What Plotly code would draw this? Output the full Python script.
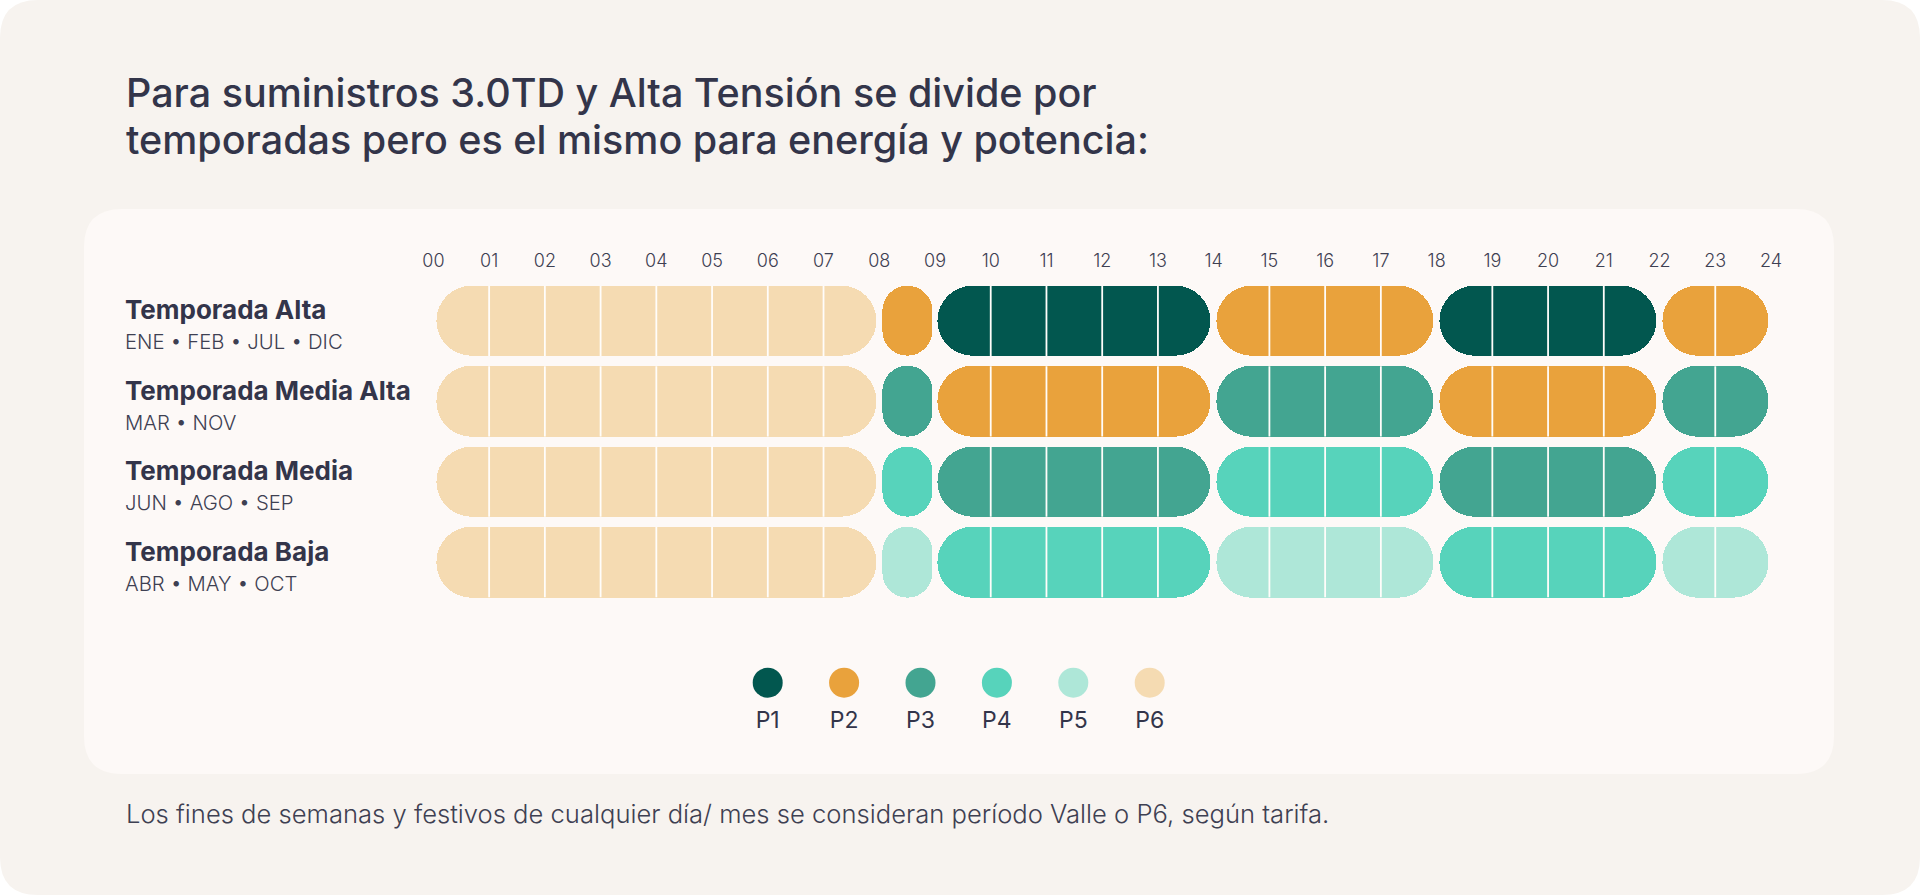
import plotly.graph_objects as go

# ---------------- data ----------------
HOUR_LABELS = ["00", "01", "02", "03", "04", "05", "06", "07", "08", "09", "10", "11",
               "12", "13", "14", "15", "16", "17", "18", "19", "20", "21", "22", "23", "24"]
SEASONS = ["Temporada Alta", "Temporada Media Alta", "Temporada Media", "Temporada Baja"]
MONTHS = ["ENE • FEB • JUL • DIC", "MAR • NOV", "JUN • AGO • SEP", "ABR • MAY • OCT"]
SEG_START = [0, 8, 9, 14, 18, 22]
SEG_END = [8, 9, 14, 18, 22, 24]
PERIODS_ALTA = ["P6", "P2", "P1", "P2", "P1", "P2"]
PERIODS_MEDIA_ALTA = ["P6", "P3", "P2", "P3", "P2", "P3"]
PERIODS_MEDIA = ["P6", "P4", "P3", "P4", "P3", "P4"]
PERIODS_BAJA = ["P6", "P5", "P4", "P5", "P4", "P5"]
PERIOD_NAMES = ["P1", "P2", "P3", "P4", "P5", "P6"]
PERIOD_COLORS = ["#02574F", "#E9A23C", "#43A591", "#57D3BB", "#AEE7D8", "#F5DBB2"]

TITLE_LINES = ["Para suministros 3.0TD y Alta Tensión se divide por",
               "temporadas pero es el mismo para energía y potencia:"]
FOOTER = "Los fines de semanas y festivos de cualquier día/ mes se consideran período Valle o P6, según tarifa."

# ---------------- style ----------------
W, H = 1920, 895
FONT = "Inter"
TEXT = "#33354A"
SUBTEXT = "#3E4052"
OUTER_BG = "#F7F3EF"
PANEL_BG = "#FDF9F7"
GAP = 0.05          # hours of empty space at each end of a block
BAR_W = 0.874
DIVIDER = "#FFFDFA"
LEGEND_TEXT_DY = -39.5

color_of = dict(zip(PERIOD_NAMES, PERIOD_COLORS))
rows = [PERIODS_ALTA, PERIODS_MEDIA_ALTA, PERIODS_MEDIA, PERIODS_BAJA]

ys, xs, bases, cols = [], [], [], []
div_x, div_y = [], []
for r, periods in enumerate(rows):
    for s, e, p in zip(SEG_START, SEG_END, periods):
        ys.append(r)
        bases.append(s + GAP)
        xs.append(e - s - 2 * GAP)
        cols.append(color_of[p])
        for h in range(s + 1, e):
            div_x += [h, h, None]
            div_y += [r - BAR_W / 2, r + BAR_W / 2, None]

fig = go.Figure()
fig.add_trace(go.Bar(
    orientation="h", y=ys, x=xs, base=bases, width=BAR_W,
    marker=dict(color=cols, cornerradius=35, line=dict(width=0)),
    hoverinfo="skip", xaxis="x", yaxis="y",
))
fig.add_trace(go.Scatter(
    x=div_x, y=div_y, mode="lines", line=dict(color=DIVIDER, width=1.8),
    hoverinfo="skip", xaxis="x", yaxis="y",
))
# custom legend
fig.add_trace(go.Scatter(
    x=PERIOD_NAMES, y=[0] * len(PERIOD_NAMES), mode="markers",
    marker=dict(size=30, color=PERIOD_COLORS, line=dict(width=0)),
    hoverinfo="skip", xaxis="x2", yaxis="y2",
))
fig.add_trace(go.Scatter(
    x=PERIOD_NAMES, y=[LEGEND_TEXT_DY] * len(PERIOD_NAMES), mode="text",
    text=PERIOD_NAMES, textposition="middle center",
    textfont=dict(family=FONT, size=23, color=TEXT, weight=400),
    hoverinfo="skip", xaxis="x2", yaxis="y2",
))


def rounded(x0, y0, x1, y1, rpx):
    rx, ry = rpx / W, rpx / H
    return (f"M{x0+rx},{y0} L{x1-rx},{y0} Q{x1},{y0} {x1},{y0+ry} "
            f"L{x1},{y1-ry} Q{x1},{y1} {x1-rx},{y1} L{x0+rx},{y1} "
            f"Q{x0},{y1} {x0},{y1-ry} L{x0},{y0+ry} Q{x0},{y0} {x0+rx},{y0} Z")


shapes = [
    dict(type="path", xref="paper", yref="paper", layer="below",
         path=rounded(0, 0, 1, 1, 38), fillcolor=OUTER_BG, line=dict(width=0)),
    dict(type="path", xref="paper", yref="paper", layer="below",
         path=rounded(84 / W, 1 - 774 / H, 1834 / W, 1 - 209 / H, 38),
         fillcolor=PANEL_BG, line=dict(width=0)),
]

annotations = []
for line, ypx in zip(TITLE_LINES, [93, 140.5]):
    annotations.append(dict(text=line, xref="paper", yref="paper", x=124 / W, y=1 - ypx / H,
                            xanchor="left", yanchor="middle", align="left", showarrow=False,
                            font=dict(family=FONT, size=39.5, color=TEXT, weight=500)))
annotations.append(dict(text=FOOTER, xref="paper", yref="paper", x=124 / W, y=1 - 813 / H,
                        xanchor="left", yanchor="middle", align="left", showarrow=False,
                        font=dict(family=FONT, size=25.6, color=SUBTEXT, weight=300)))
for r, (name, months) in enumerate(zip(SEASONS, MONTHS)):
    annotations.append(dict(text=name, xref="paper", yref="y", x=123 / W, y=r, yshift=11,
                            xanchor="left", yanchor="middle", showarrow=False,
                            font=dict(family=FONT, size=26, color=TEXT, weight=700)))
    annotations.append(dict(text=months, xref="paper", yref="y", x=123 / W, y=r, yshift=-21,
                            xanchor="left", yanchor="middle", showarrow=False,
                            font=dict(family=FONT, size=20.3, color=SUBTEXT, weight=300)))

fig.update_layout(
    width=W, height=H, margin=dict(l=0, r=0, t=0, b=0, pad=0, autoexpand=False),
    paper_bgcolor="#FFFFFF", plot_bgcolor="rgba(0,0,0,0)",
    showlegend=False, barmode="overlay", bargap=0,
    shapes=shapes, annotations=annotations,
    xaxis=dict(domain=[433.4 / W, 1771 / W], range=[0, 24], side="top",
               tickmode="array", tickvals=list(range(len(HOUR_LABELS))), ticktext=HOUR_LABELS,
               ticks="outside", ticklen=6, tickcolor="rgba(0,0,0,0)",
               tickfont=dict(family=FONT, size=18, color=SUBTEXT, weight=300),
               showgrid=False, zeroline=False, showline=False, fixedrange=True,
               automargin=False),
    yaxis=dict(domain=[1 - 602.3 / H, 1 - 280.7 / H], range=[3.5, -0.5],
               visible=False, fixedrange=True, automargin=False),
    xaxis2=dict(domain=[729.5 / W, 1187.9 / W], range=[-0.5, 5.5], anchor="y2",
                visible=False, fixedrange=True, automargin=False),
    yaxis2=dict(domain=[1 - 760 / H, 1 - 640 / H], range=[-77.3, 42.7], anchor="x2",
                visible=False, fixedrange=True, automargin=False),
)

fig.write_html("out.html", config={"displayModeBar": False},
               post_script="document.body.style.margin='0px';document.body.style.overflow='hidden';")
